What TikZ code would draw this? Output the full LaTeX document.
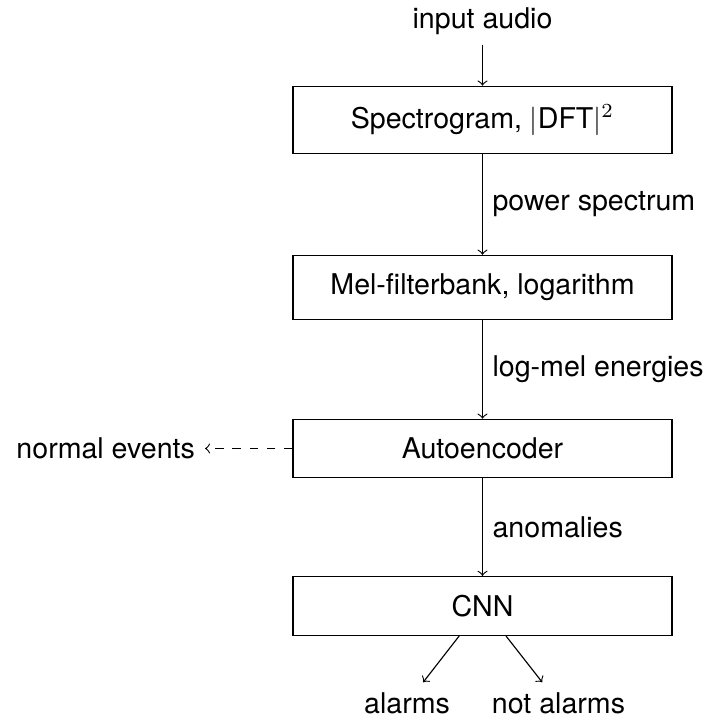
\documentclass[tikz,border=0pt]{standalone}
\usepackage{fontspec}
\setmainfont{TeX Gyre Heros}
\begin{document}
\begin{tikzpicture}[x=0.35pt,y=-0.35pt,>=to,
  procbox/.style={draw, minimum width=132.65pt, inner sep=6.5pt},
  lbl/.style={inner sep=3.33pt}]
\useasboundingbox (0,0) rectangle (709,720);
\node[lbl] (in) at (482.5,21) {input audio};
\node[procbox] (b1) at (482.5,120) {Spectrogram, $|\mbox{DFT}|^2$};
\node[procbox] (b2) at (482.5,287.5) {Mel-filterbank, logarithm};
\node[procbox] (b3) at (482.5,448.5) {Autoencoder};
\node[procbox] (b4) at (482.5,606) {CNN};
\node[lbl, anchor=east] (ne) at (205,448.5) {normal events};
\node[lbl] (al) at (407,703) {alarms};
\node[lbl] (na) at (558.5,703) {not alarms};
\draw[->] (in) -- (b1);
\draw[->] (b1) -- node[right] {power spectrum} (b2);
\draw[->] (b2) -- node[right] {log-mel energies} (b3);
\draw[->] (b3) -- node[right] {anomalies} (b4);
\draw[->, dashed] (b3) -- (ne);
\draw[->] (b4) -- (al);
\draw[->] (b4) -- (na);
\end{tikzpicture}
\end{document}
